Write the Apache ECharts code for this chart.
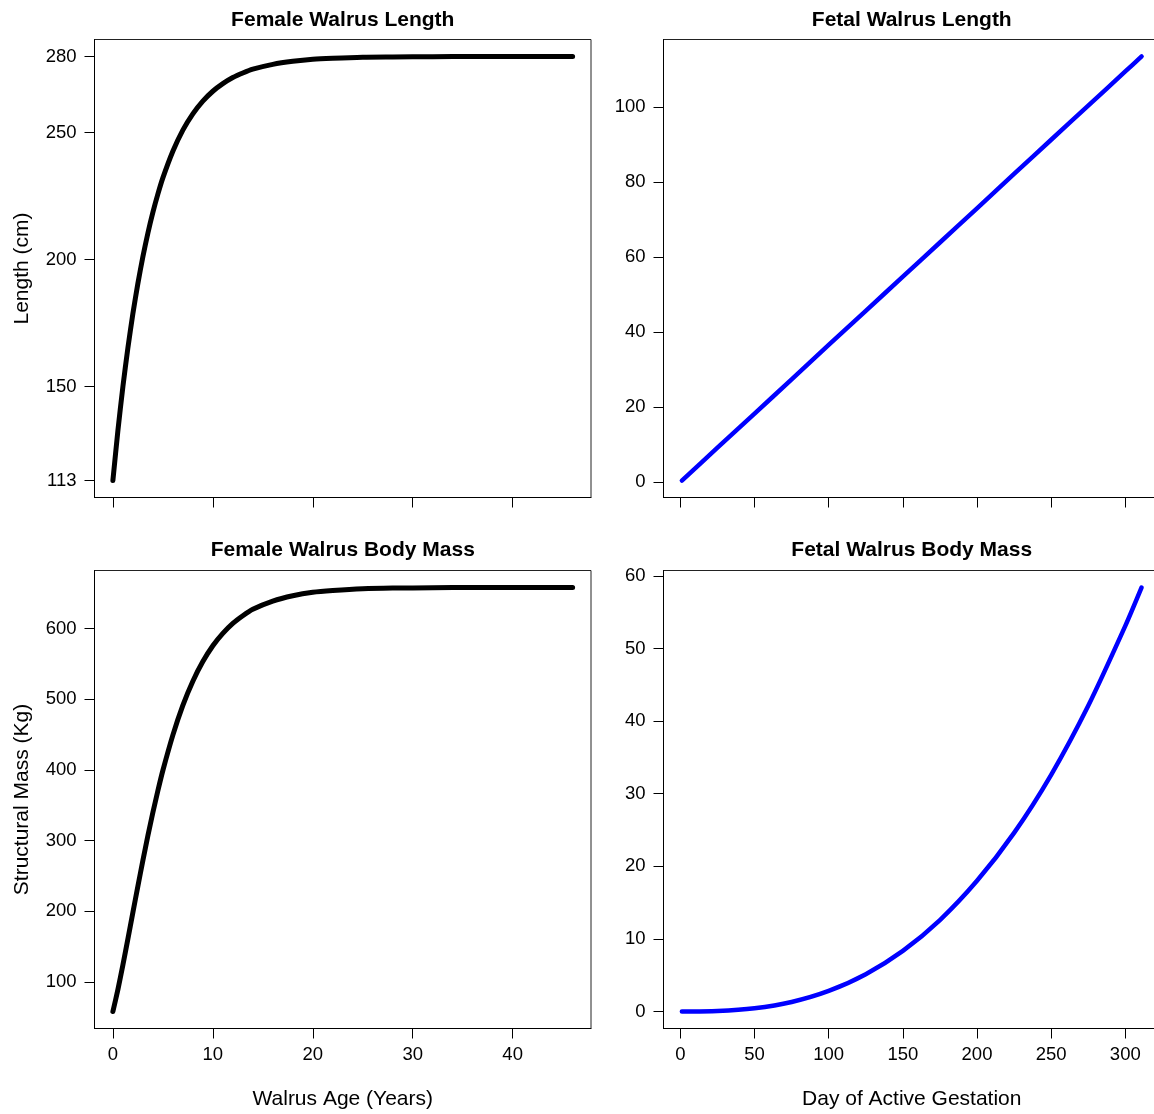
<!DOCTYPE html>
<html>
<head>
<meta charset="utf-8">
<title>Walrus Growth</title>
<script src="https://cdn.jsdelivr.net/npm/echarts@6/dist/echarts.min.js"></script>
<style>
  html, body { margin: 0; padding: 0; background: #fff; }
  #chart { width: 1154px; height: 1114px; }
</style>
</head>
<body>
<div id="chart"></div>
<script>
// Female walrus growth by age
const ageYears = [0, 0.5, 1, 1.5, 2, 2.5, 3, 3.5, 4, 4.5, 5, 6, 7, 8, 9, 10, 11, 12, 13, 14, 16, 18, 20, 22, 25, 28, 32, 36, 40, 46];
const femaleLengthCm = [113, 132.6, 149.9, 165.2, 178.7, 190.6, 201.1, 210.4, 218.6, 225.8, 232.2, 242.7, 251.0, 257.4, 262.4, 266.3, 269.3, 271.7, 273.5, 275.0, 276.9, 278.1, 278.9, 279.3, 279.7, 279.8, 279.9, 280.0, 280.0, 280.0];
const femaleMassKg = [58.4, 89.4, 124.1, 160.9, 198.4, 235.6, 271.9, 306.8, 339.7, 370.5, 399.2, 449.2, 491.3, 525.5, 553.2, 575.6, 593.0, 607.2, 618.0, 627.1, 638.7, 646.2, 651.1, 653.6, 656.1, 657.1, 657.6, 658.0, 658.0, 658.0];

// Fetal growth by day of active gestation
const gestationDay = [1, 25, 50, 75, 100, 125, 150, 175, 200, 225, 250, 275, 300, 311];
const fetalLengthCm = [0.45, 9.2, 18.3, 27.4, 36.6, 45.7, 54.8, 63.9, 73.0, 82.2, 91.3, 100.4, 109.5, 113.5];
const fetalMassKg = [0.0, 0.07, 0.45, 1.32, 2.84, 5.14, 8.35, 12.6, 18.0, 24.6, 32.6, 42.1, 53.1, 58.4];

// Tick positions
const ageTicks = [0, 10, 20, 30, 40];
const lengthTicks = [113, 150, 200, 250, 280];
const massTicks = [100, 200, 300, 400, 500, 600];
const dayTicks = [0, 50, 100, 150, 200, 250, 300];
const fetalLengthTicks = [0, 20, 40, 60, 80, 100];
const fetalMassTicks = [0, 10, 20, 30, 40, 50, 60];

// Panel titles and axis titles
const panelTitles = ['Female Walrus Length', 'Fetal Walrus Length', 'Female Walrus Body Mass', 'Fetal Walrus Body Mass'];
const ageAxisTitle = 'Walrus Age (Years)';
const dayAxisTitle = 'Day of Active Gestation';
const lengthAxisTitle = 'Length (cm)';
const massAxisTitle = 'Structural Mass (Kg)';

// Data range widened by 4% on each side, as base R plots do
function paddedRange(arr) {
  const lo = Math.min(...arr), hi = Math.max(...arr);
  const p = 0.04 * (hi - lo);
  return [lo - p, hi + p];
}
function pairs(xs, ys) { return xs.map((x, i) => [x, ys[i]]); }

const FONT = '"Liberation Sans", Arial, Helvetica, sans-serif';
const INK = '#000';

const grids = [
  { left: 94.5, top: 39.5, width: 496.5, height: 458 },
  { left: 663.5, top: 39.5, width: 496.5, height: 458 },
  { left: 94.5, top: 570.5, width: 496.5, height: 458 },
  { left: 663.5, top: 570.5, width: 496.5, height: 458 }
];

function xAxisFor(gridIndex, values, ticks, showLabels, name) {
  const [mn, mx] = paddedRange(values);
  return {
    type: 'value', gridIndex, min: mn, max: mx,
    axisLine: { show: true, onZero: false, lineStyle: { color: INK, width: 1 } },
    axisTick: { show: true, inside: false, length: 10, customValues: ticks, lineStyle: { color: INK, width: 1 } },
    axisLabel: { show: showLabels, customValues: ticks, margin: 17, color: INK, fontSize: 18.5, fontFamily: FONT },
    splitLine: { show: false },
    name: name || '', nameLocation: 'middle', nameGap: 60,
    nameTextStyle: { color: INK, fontSize: 21, fontFamily: FONT }
  };
}
function yAxisFor(gridIndex, values, ticks, name) {
  const [mn, mx] = paddedRange(values);
  return {
    type: 'value', gridIndex, min: mn, max: mx,
    axisLine: { show: true, onZero: false, lineStyle: { color: INK, width: 1 } },
    axisTick: { show: true, inside: false, length: 10, customValues: ticks, lineStyle: { color: INK, width: 1 } },
    axisLabel: { show: true, customValues: ticks, margin: 18, color: INK, fontSize: 18.5, fontFamily: FONT },
    splitLine: { show: false },
    name: name || '', nameLocation: 'middle', nameGap: 62, nameRotate: 90,
    nameTextStyle: { color: INK, fontSize: 21, fontFamily: FONT }
  };
}
function curve(idx, xs, ys, color, width) {
  return {
    type: 'line', xAxisIndex: idx, yAxisIndex: idx,
    data: pairs(xs, ys),
    showSymbol: false, symbol: 'none',
    smooth: 0.25,
    lineStyle: { color, width, cap: 'round', join: 'round' },
    silent: true, animation: false
  };
}

const titleCenters = [342.75, 911.75, 342.75, 911.75];
const titleTops = [9.5, 9.5, 539.5, 539.5];

const option = {
  backgroundColor: '#fff',
  animation: false,
  title: panelTitles.map((t, i) => ({
    text: t, left: titleCenters[i], top: titleTops[i], textAlign: 'center', padding: 0,
    textStyle: { color: INK, fontSize: 21, fontWeight: 'bold', fontFamily: FONT }
  })),
  grid: grids.map(g => Object.assign({
    show: true, borderColor: '#222', borderWidth: 1, backgroundColor: 'transparent',
    containLabel: false, outerBoundsMode: 'none'
  }, g)),
  xAxis: [
    xAxisFor(0, ageYears, ageTicks, false),
    xAxisFor(1, gestationDay, dayTicks, false),
    xAxisFor(2, ageYears, ageTicks, true, ageAxisTitle),
    xAxisFor(3, gestationDay, dayTicks, true, dayAxisTitle)
  ],
  yAxis: [
    yAxisFor(0, femaleLengthCm, lengthTicks, lengthAxisTitle),
    yAxisFor(1, fetalLengthCm, fetalLengthTicks),
    yAxisFor(2, femaleMassKg, massTicks, massAxisTitle),
    yAxisFor(3, fetalMassKg, fetalMassTicks)
  ],
  series: [
    curve(0, ageYears, femaleLengthCm, '#000', 5),
    curve(1, gestationDay, fetalLengthCm, '#0000ff', 4.5),
    curve(2, ageYears, femaleMassKg, '#000', 5),
    curve(3, gestationDay, fetalMassKg, '#0000ff', 4.5)
  ]
};

const chart = echarts.init(document.getElementById('chart'), null, { renderer: 'canvas' });
chart.setOption(option);
</script>
</body>
</html>
